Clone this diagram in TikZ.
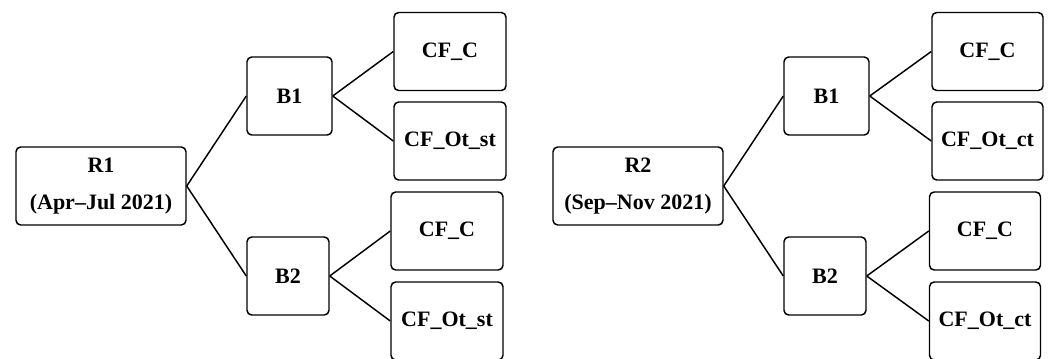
\documentclass[tikz,border=0pt]{standalone}
\usepackage{fontspec}
\setmainfont{Liberation Serif}
\begin{document}
\begin{tikzpicture}[x=0.75pt,y=-0.75pt,
  box/.style={draw, line width=1.1pt, rounded corners=3.5pt, inner sep=0pt,
    font=\fontsize{16.5}{19.5}\selectfont\bfseries, align=center,
    minimum height=58.5pt},
  rootbox/.style={box, minimum width=127.5pt},
  midbox/.style={box, minimum width=62.5pt},
  leafbox/.style={box, minimum width=84pt},
  link/.style={line width=1.1pt}]
\useasboundingbox (0,0) rectangle (1049,358);
% left tree
\node[rootbox] (r1) at (101,186) {R1\\[8.5pt](Apr--Jul 2021)};
\node[midbox, minimum width=63.75pt] (lb1) at (289.5,96) {B1};
\node[midbox, minimum width=61.5pt] (lb2) at (288,276) {B2};
\node[leafbox] (lc1) at (450,51.5) {CF\_C};
\node[leafbox] (lo1) at (450,141) {CF\_Ot\_st};
\node[leafbox] (lc2) at (447,231) {CF\_C};
\node[leafbox] (lo2) at (447,321) {CF\_Ot\_st};
\draw[link] (r1.east) -- (lb1.west);
\draw[link] (r1.east) -- (lb2.west);
\draw[link] (lb1.east) -- (lc1.west);
\draw[link] (lb1.east) -- (lo1.west);
\draw[link] (lb2.east) -- (lc2.west);
\draw[link] (lb2.east) -- (lo2.west);
% right tree
\node[rootbox] (r2) at (638,186) {R2\\[8.5pt](Sep--Nov 2021)};
\node[midbox, minimum width=63.75pt] (rb1) at (826.5,96) {B1};
\node[midbox, minimum width=61.5pt] (rb2) at (825,276) {B2};
\node[leafbox, minimum width=83.25pt] (rc1) at (987.5,51.5) {CF\_C};
\node[leafbox, minimum width=83.25pt] (ro1) at (987.5,141) {CF\_Ot\_ct};
\node[leafbox, minimum width=83.25pt] (rc2) at (985,231) {CF\_C};
\node[leafbox, minimum width=83.25pt] (ro2) at (985,321) {CF\_Ot\_ct};
\draw[link] (r2.east) -- (rb1.west);
\draw[link] (r2.east) -- (rb2.west);
\draw[link] (rb1.east) -- (rc1.west);
\draw[link] (rb1.east) -- (ro1.west);
\draw[link] (rb2.east) -- (rc2.west);
\draw[link] (rb2.east) -- (ro2.west);
\end{tikzpicture}
\end{document}
